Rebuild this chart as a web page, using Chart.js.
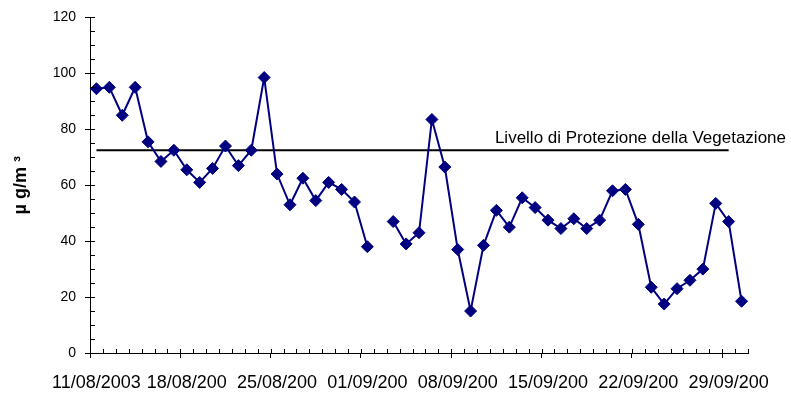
<!DOCTYPE html>
<html>
<head>
<meta charset="utf-8">
<script src="https://cdn.jsdelivr.net/npm/chart.js@4/dist/chart.umd.min.js"></script>
<style>
  html, body { margin: 0; padding: 0; background: #fff; }
  #wrap { width: 791px; height: 395px; }
</style>
</head>
<body>
<div id="wrap"><canvas id="chart"></canvas></div>
<script>
// giorni di misura (11/08/2003 - 30/09/2003)
var days = [
    '11/08/2003', '12/08/2003', '13/08/2003', '14/08/2003', '15/08/2003', '16/08/2003', '17/08/2003',
    '18/08/2003', '19/08/2003', '20/08/2003', '21/08/2003', '22/08/2003', '23/08/2003', '24/08/2003',
    '25/08/2003', '26/08/2003', '27/08/2003', '28/08/2003', '29/08/2003', '30/08/2003', '31/08/2003',
    '01/09/2003', '02/09/2003', '03/09/2003', '04/09/2003', '05/09/2003', '06/09/2003', '07/09/2003',
    '08/09/2003', '09/09/2003', '10/09/2003', '11/09/2003', '12/09/2003', '13/09/2003', '14/09/2003',
    '15/09/2003', '16/09/2003', '17/09/2003', '18/09/2003', '19/09/2003', '20/09/2003', '21/09/2003',
    '22/09/2003', '23/09/2003', '24/09/2003', '25/09/2003', '26/09/2003', '27/09/2003', '28/09/2003',
    '29/09/2003', '30/09/2003'
];
// concentrazioni (µg/m³), null = dato mancante
var values = [
    94.5, 95, 85, 95, 75.5, 68.5, 72.5,
    65.5, 61, 66, 74, 67, 72.5, 98.5,
    64, 53, 62.5, 54.5, 61, 58.5, 54,
    38, null, 47, 39, 43, 83.5, 66.5,
    37, 15, 38.5, 51, 45, 55.5, 52,
    47.5, 44.5, 48, 44.5, 47.5, 58, 58.5,
    46, 23.5, 17.5, 23, 26, 30, 53.5,
    47, 18.5
];
// etichette dell'asse x (come troncate nell'originale)
var tickLabels = ['11/08/2003', '18/08/200', '25/08/200', '01/09/200', '08/09/200', '15/09/200', '22/09/200', '29/09/200'];
var limitValue = 72.5;
var limitLabel = 'Livello di Protezione della Vegetazione';
var limitFrom = 0, limitTo = 49;

var limitData = days.map(function (d, i) {
    return (i >= limitFrom && i <= limitTo) ? limitValue : null;
});

Chart.defaults.font.family = '"Liberation Sans", Arial, sans-serif';
Chart.defaults.color = '#000';

// piccole tacche interne (minor ticks) + etichetta della soglia
var extras = {
    id: 'extras',
    afterDraw: function (chart) {
        var c = chart.ctx, xs = chart.scales.x, ys = chart.scales.y, a = chart.chartArea;
        c.save();
        c.strokeStyle = '#000';
        c.lineWidth = 1;
        c.beginPath();
        var step = xs.getPixelForValue(1) - xs.getPixelForValue(0);
        for (var i = 0; i <= days.length; i++) {
            var x = Math.round(xs.getPixelForValue(i) - step / 2) + 0.5;
            c.moveTo(x, a.bottom);
            c.lineTo(x, a.bottom - 4);
        }
        for (var v = 0; v <= 120; v += 5) {
            var y = Math.round(ys.getPixelForValue(v)) + 0.5;
            c.moveTo(a.left, y);
            c.lineTo(a.left + 5, y);
        }
        c.stroke();
        c.font = '17px "Liberation Sans", Arial, sans-serif';
        c.fillStyle = '#000';
        c.textAlign = 'right';
        c.textBaseline = 'alphabetic';
        c.fillText(limitLabel, chart.width - 5, ys.getPixelForValue(limitValue) - 7);
        c.restore();
    }
};

new Chart(document.getElementById('chart'), {
    type: 'line',
    data: {
        labels: days,
        datasets: [
            {
                label: 'Concentrazione',
                data: values,
                borderColor: '#000080',
                backgroundColor: '#000080',
                borderWidth: 2,
                pointStyle: 'rectRot',
                pointRadius: 6,
                pointBorderWidth: 1,
                pointBorderColor: '#000080',
                pointBackgroundColor: '#000080',
                spanGaps: false,
                tension: 0
            },
            {
                label: limitLabel,
                data: limitData,
                borderColor: '#000',
                borderWidth: 2,
                pointRadius: 0,
                fill: false
            }
        ]
    },
    options: {
        responsive: true,
        maintainAspectRatio: false,
        animation: false,
        layout: { padding: { left: 0, right: 43, top: 17, bottom: 0 } },
        plugins: {
            legend: { display: false },
            tooltip: { enabled: false }
        },
        scales: {
            x: {
                offset: true,
                afterFit: function (s) { s.height = 42; },
                border: { display: true, color: '#000', width: 1 },
                grid: {
                    offset: true,
                    drawOnChartArea: false,
                    drawTicks: true,
                    tickLength: 5,
                    color: function (ctx) { return ctx.index % 7 === 0 ? '#000' : 'rgba(0,0,0,0)'; }
                },
                ticks: {
                    autoSkip: false,
                    maxRotation: 0,
                    padding: 14,
                    font: { size: 18 },
                    callback: function (v, i) { return i % 7 === 0 ? tickLabels[i / 7] : ''; }
                }
            },
            y: {
                min: 0,
                max: 120,
                afterFit: function (s) { s.width = 90; },
                border: { display: true, color: '#000', width: 1 },
                grid: { drawOnChartArea: false, drawTicks: true, tickLength: 5, color: '#000' },
                ticks: { stepSize: 20, padding: 9, font: { size: 14 } },
                title: {
                    display: true,
                    text: 'µ g/m ³',
                    font: { size: 18, weight: 'bold' },
                    padding: { top: 10, bottom: 0 }
                }
            }
        }
    },
    plugins: [extras]
});
</script>
</body>
</html>
